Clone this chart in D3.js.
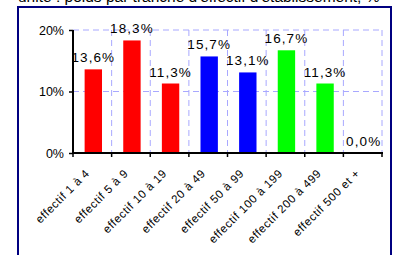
<!DOCTYPE html>
<meta charset="utf-8">
<html>
<head>
	<script src="https://cdn.jsdelivr.net/npm/d3@7"></script>
	<style>
		body { margin: 0; background: #fff; }
		text { font-family: Arial, "Liberation Sans", sans-serif; }
	</style>
</head>
<body>
	<svg id="chart" width="394" height="255"></svg>
	<script>
		var categories = ["effectif 1 à 4", "effectif 5 à 9", "effectif 10 à 19", "effectif 20 à 49",
			"effectif 50 à 99", "effectif 100 à 199", "effectif 200 à 499", "effectif 500 et +"];
		var values = [13.6, 18.3, 11.3, 15.7, 13.1, 16.7, 11.3, 0.0];
		var colors = ["#ff0000", "#ff0000", "#ff0000", "#0000ff", "#0000ff", "#00ff00", "#00ff00", "#00ff00"];
		var yTicks = [0, 10, 20];
		var title = "unité : poids par tranche d'effectif d'établissement, %";

		var svg = d3.select("#chart");

		// plot area (window.top is taken, so use other names)
		var plotLeft = 73, plotRight = 382, plotTop = 30, plotBottom = 153;

		var x = d3.scaleBand()
			.domain(categories)
			.range([plotLeft, plotRight])
			.paddingInner(0.55)
			.paddingOuter(0.275);

		var y = d3.scaleLinear()
			.domain([0, 20])
			.range([plotBottom, plotTop]);

		var fmt = function(v) { return v.toFixed(1).replace(".", ",") + "%"; };

		// title, cut at the top
		svg.append("text")
			.attr("x", 18)
			.attr("y", 2)
			.attr("font-size", 15.5)
			.text(title);

		// frame
		svg.append("rect")
			.attr("x", 18).attr("y", 7)
			.attr("width", 373).attr("height", 270)
			.attr("fill", "#fff")
			.attr("stroke", "#000080")
			.attr("stroke-width", 2);

		// band edges, for gridlines and x ticks
		var step = x.step();
		var edges = d3.range(categories.length + 1).map(function(i) { return plotLeft + i * step; });

		svg.append("g")
			.selectAll("line")
			.data(yTicks.filter(function(d) { return d > 0; }))
			.enter().append("line")
				.attr("x1", plotLeft).attr("x2", plotRight)
				.attr("y1", function(d) { return y(d); })
				.attr("y2", function(d) { return y(d); })
				.attr("stroke", "#a8a8ff")
				.attr("stroke-dasharray", "6,4");

		svg.append("g")
			.selectAll("line")
			.data(edges.slice(1))
			.enter().append("line")
				.attr("x1", function(d) { return d; })
				.attr("x2", function(d) { return d; })
				.attr("y1", y(20)).attr("y2", y(0))
				.attr("stroke", "#a8a8ff")
				.attr("stroke-dasharray", "6,4");

		// bars
		svg.append("g")
			.selectAll("rect")
			.data(values)
			.enter().append("rect")
				.attr("x", function(d, i) { return x(categories[i]) + 1; })
				.attr("y", function(d) { return y(d); })
				.attr("width", x.bandwidth())
				.attr("height", function(d) { return y(0) - y(d); })
				.attr("fill", function(d, i) { return colors[i]; });

		// value labels
		svg.append("g")
			.selectAll("text")
			.data(values)
			.enter().append("text")
				.attr("x", function(d, i) { return x(categories[i]) + x.bandwidth() / 2 + 1; })
				.attr("y", function(d) { return y(d) - 7; })
				.attr("text-anchor", "middle")
				.attr("font-size", 13.5)
				.attr("letter-spacing", 1.1)
				.text(fmt);

		// y axis
		var yAxis = svg.append("g")
			.attr("transform", "translate(" + plotLeft + ",0)")
			.call(d3.axisLeft(y).tickValues(yTicks).tickSize(4).tickPadding(5)
				.tickFormat(function(d) { return d + "%"; }));
		yAxis.select(".domain").attr("stroke-width", 2).attr("d", "M0," + y(20) + "V" + y(0));
		yAxis.selectAll("line").attr("stroke-width", 1.5);
		yAxis.selectAll("text").attr("font-size", 12.5).attr("font-family", "Arial, 'Liberation Sans', sans-serif");

		// x axis
		var xAxis = svg.append("g");
		xAxis.append("line")
			.attr("x1", plotLeft - 1).attr("x2", plotRight + 1)
			.attr("y1", plotBottom).attr("y2", plotBottom)
			.attr("stroke", "#000").attr("stroke-width", 2);
		xAxis.selectAll("line.tick")
			.data(edges)
			.enter().append("line")
				.attr("class", "tick")
				.attr("x1", function(d) { return d; })
				.attr("x2", function(d) { return d; })
				.attr("y1", plotBottom).attr("y2", plotBottom + 4)
				.attr("stroke", "#000").attr("stroke-width", 1.5);

		xAxis.selectAll("text")
			.data(categories)
			.enter().append("text")
				.attr("transform", function(d) {
					return "translate(" + (x(d) + x.bandwidth() / 2 - 2) + "," + (plotBottom + 21) + ") rotate(-45)";
				})
				.attr("text-anchor", "end")
				.attr("font-size", 11.5)
				.attr("letter-spacing", 0.6)
				.text(function(d) { return d; });
	</script>
</body>
</html>
